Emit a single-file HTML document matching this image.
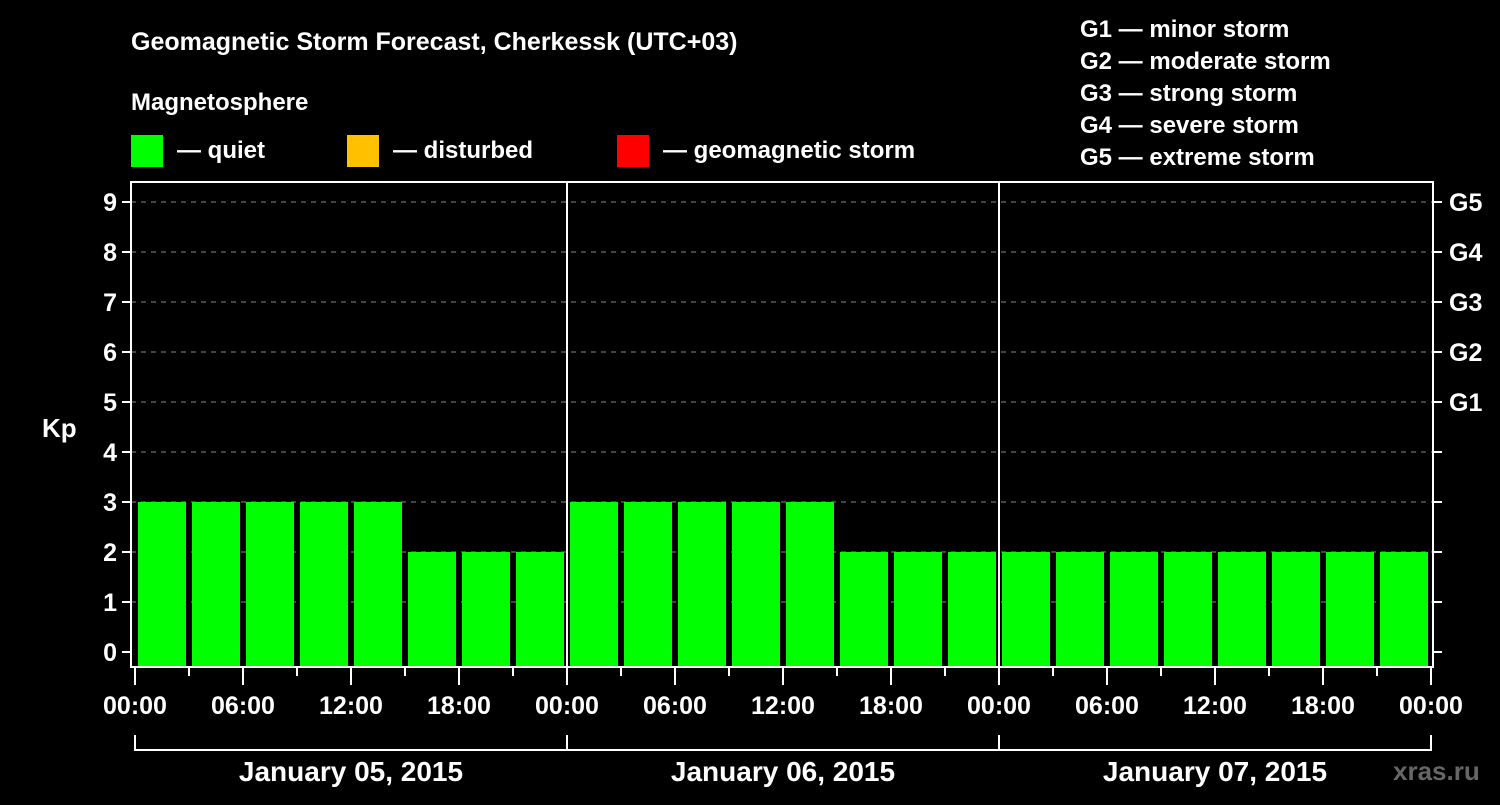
<!DOCTYPE html>
<html><head><meta charset="utf-8"><style>
body{margin:0;background:#000;}
svg text{font-family:"Liberation Sans",sans-serif;font-weight:bold;fill:#fff;}
</style></head><body>
<svg id="c" width="1500" height="800" xmlns="http://www.w3.org/2000/svg">
<rect width="1500" height="800" fill="#000"/>
<text x="131" y="50" font-size="25">Geomagnetic Storm Forecast, Cherkessk (UTC+03)</text>
<text x="131" y="110" font-size="24">Magnetosphere</text>
<g><rect x="131" y="135" width="32" height="32" fill="#00ff00"/><text x="177" y="158" font-size="24">— quiet</text></g>
<g><rect x="347" y="135" width="32" height="32" fill="#ffc000"/><text x="393" y="158" font-size="24">— disturbed</text></g>
<g><rect x="617" y="135" width="32" height="32" fill="#ff0000"/><text x="663" y="158" font-size="24">— geomagnetic storm</text></g>
<g font-size="24">
<text x="1080" y="37">G1 — minor storm</text>
<text x="1080" y="69">G2 — moderate storm</text>
<text x="1080" y="101">G3 — strong storm</text>
<text x="1080" y="133">G4 — severe storm</text>
<text x="1080" y="165">G5 — extreme storm</text>
</g>
<g id="plot"></g>
<text x="42" y="437" font-size="26">Kp</text>
<text x="1393" y="780" font-size="26" style="fill:#666">xras.ru</text>
</svg>
<script>
const kpValues=[3,3,3,3,3,2,2,2, 3,3,3,3,3,2,2,2, 2,2,2,2,2,2,2,2];
const dayLabels=["January 05, 2015","January 06, 2015","January 07, 2015"];
const yTicks=[0,1,2,3,4,5,6,7,8,9];
const gLabels=["G1","G2","G3","G4","G5"];
const hourLabels=["00:00","06:00","12:00","18:00"];
const NS="http://www.w3.org/2000/svg";
const g=document.getElementById('plot');
const L=131,R=1433,T=182,B=667,X0=135,DAYW=432;
const y=v=>652-v*50;
const x=h=>X0+h*DAYW/24;
function el(t,a,p){const e=document.createElementNS(NS,t);for(const k in a)e.setAttribute(k,a[k]);(p||g).appendChild(e);return e;}
yTicks.forEach(v=>{
 if(v>0){const d=el('line',{x1:L,x2:R,y1:y(v),y2:y(v),stroke:'#888','stroke-dasharray':'5,5','stroke-width':1});
 
 }
 el('line',{x1:L-9,x2:L,y1:y(v),y2:y(v),stroke:'#fff','stroke-width':2});
 el('line',{x1:R,x2:R+9,y1:y(v),y2:y(v),stroke:'#fff','stroke-width':2});
 const t=el('text',{x:L-14,y:y(v)+9,'font-size':25,'text-anchor':'end'});t.textContent=v;
 
 
});
gLabels.forEach((s,i)=>{const t=el('text',{x:1449,y:y(5+i)+9,'font-size':25});t.textContent=s;
 
 });
kpValues.forEach((v,i)=>{
 const c=v>=5?'#ff0000':(v>=4?'#ffc000':'#00ff00');
 const b=el('rect',{x:x(i*3)+3,y:y(v),width:DAYW/8-6,height:B-y(v),fill:c});
 
 
});
el('rect',{x:L,y:T,width:R-L,height:B-T,fill:'none',stroke:'#fff','stroke-width':2});
for(let d=1;d<dayLabels.length;d++)el('line',{x1:x(d*24),x2:x(d*24),y1:T,y2:B,stroke:'#fff','stroke-width':2});
for(let h=0;h<=72;h+=3){
 const maj=h%6===0;
 el('line',{x1:x(h),x2:x(h),y1:B,y2:B+(maj?18:9),stroke:'#fff','stroke-width':2});
 if(maj&&h%6===0&&(h%24)%6===0){const lbl=hourLabels[(h%24)/6];
 const t=el('text',{x:x(h),y:B+47,'font-size':25,'text-anchor':'middle'});t.textContent=lbl;
 
 }
}
dayLabels.forEach((s,d)=>{
 el('polyline',{points:`${x(d*24)},735 ${x(d*24)},750 ${x(d*24+24)},750 ${x(d*24+24)},735`,fill:'none',stroke:'#fff','stroke-width':2});
 const t=el('text',{x:x(d*24+12),y:781,'font-size':28,'text-anchor':'middle'});t.textContent=s;
 
 
});
</script>
</body></html>
